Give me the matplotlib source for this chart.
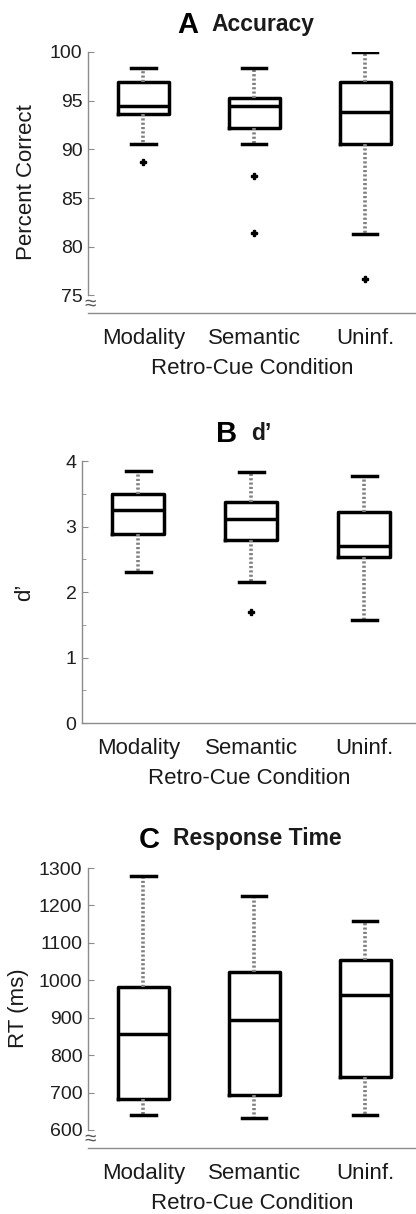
import matplotlib
matplotlib.use("Agg")
import matplotlib.pyplot as plt

plt.rcParams['font.family'] = ['Liberation Sans', 'DejaVu Sans']

conditions = ["Modality", "Semantic", "Uninf."]

# accuracy (percent correct)
acc_whislo = [90.5, 90.6, 81.3]
acc_q1 = [93.6, 92.2, 90.6]
acc_med = [94.5, 94.5, 93.8]
acc_q3 = [96.9, 95.3, 96.9]
acc_whishi = [98.4, 98.4, 100.0]
acc_fliers = [[88.7], [87.3, 81.4], [76.7]]

# d'
dp_whislo = [2.30, 2.16, 1.57]
dp_q1 = [2.88, 2.79, 2.54]
dp_med = [3.25, 3.11, 2.70]
dp_q3 = [3.49, 3.38, 3.23]
dp_whishi = [3.85, 3.83, 3.77]
dp_fliers = [[], [1.69], []]

# response time (ms)
rt_whislo = [640, 633, 640]
rt_q1 = [684, 693, 741]
rt_med = [856, 894, 961]
rt_q3 = [983, 1023, 1053]
rt_whishi = [1278, 1224, 1159]
rt_fliers = [[], [], []]


def make_stats(lo, q1, med, q3, hi, fl):
    return [dict(whislo=a, q1=b, med=c, q3=d, whishi=e, fliers=f, label=n)
            for a, b, c, d, e, f, n in zip(lo, q1, med, q3, hi, fl, conditions)]


def draw_panel(ax, stats, ylim, yticks, ylabel, ylab_x, letter, title, title_x,
               brk=None, minor=None):
    ax.bxp(stats, positions=[1, 2, 3], widths=0.46, capwidths=0.22,
           boxprops=dict(color='black', lw=2.5),
           medianprops=dict(color='black', lw=2.5),
           whiskerprops=dict(color='0.5', lw=2.6, ls=(0, (0.6, 0.6))),
           capprops=dict(color='black', lw=2.5),
           flierprops=dict(marker='P', markersize=5, markerfacecolor='black',
                           markeredgecolor='black', linestyle='none'))
    ax.set_xlim(0.5, 3.46)
    ax.set_ylim(*ylim)
    ax.set_yticks(yticks)
    if minor is not None:
        ax.set_yticks(minor, minor=True)
    for s in ['top', 'right']:
        ax.spines[s].set_visible(False)
    for s in ['left', 'bottom']:
        ax.spines[s].set_color('0.55')
        ax.spines[s].set_linewidth(1.0)
    if brk is not None:
        ax.spines['left'].set_bounds(brk, yticks[-1])
        ax.text(0.52, brk - (ylim[1] - ylim[0]) * 0.032, "≈", ha='center', va='center',
                fontsize=15, color='0.35', clip_on=False)
    ax.tick_params(axis='y', which='both', direction='in', colors='0.55',
                   labelcolor='0.12', labelsize=14, pad=4)
    ax.tick_params(axis='y', which='major', length=4)
    ax.tick_params(axis='y', which='minor', length=3)
    ax.tick_params(axis='x', length=0, labelsize=16, labelcolor='0.1', pad=11)
    ax.set_xticks([1, 2, 3])
    ax.set_xticklabels(conditions)
    ax.set_xlabel("Retro-Cue Condition", fontsize=16, color='0.1', labelpad=6)
    ax.set_ylabel(ylabel, fontsize=16, color='0.1', va='center')
    ax.yaxis.set_label_coords(ylab_x, 0.5)
    ax.text(title_x, 1.05, letter, transform=ax.transAxes, ha='right', va='bottom',
            fontsize=21, fontweight='bold')
    ax.text(title_x + 0.04, 1.063, title, transform=ax.transAxes, ha='left', va='bottom',
            fontsize=16.5, fontweight='bold', color='0.1')


fig = plt.figure(figsize=(4.16, 12.14), dpi=100)

ax1 = fig.add_axes([0.2115, 0.7422, 0.7885, 0.215])
draw_panel(ax1, make_stats(acc_whislo, acc_q1, acc_med, acc_q3, acc_whishi, acc_fliers),
           (73.2, 100), [75, 80, 85, 90, 95, 100], "Percent Correct", -0.186,
           "A", "Accuracy", 0.335, brk=75)

ax2 = fig.add_axes([0.197, 0.4044, 0.803, 0.2158])
draw_panel(ax2, make_stats(dp_whislo, dp_q1, dp_med, dp_q3, dp_whishi, dp_fliers),
           (0, 4), [0, 1, 2, 3, 4], "d’", -0.171, "B", "d’", 0.465,
           minor=[0.5, 1.5, 2.5, 3.5])

ax3 = fig.add_axes([0.2115, 0.0544, 0.7885, 0.2306])
draw_panel(ax3, make_stats(rt_whislo, rt_q1, rt_med, rt_q3, rt_whishi, rt_fliers),
           (552, 1300), [600, 700, 800, 900, 1000, 1100, 1200, 1300], "RT (ms)", -0.213,
           "C", "Response Time", 0.22, brk=600)

fig.savefig("out.png", dpi=100)
